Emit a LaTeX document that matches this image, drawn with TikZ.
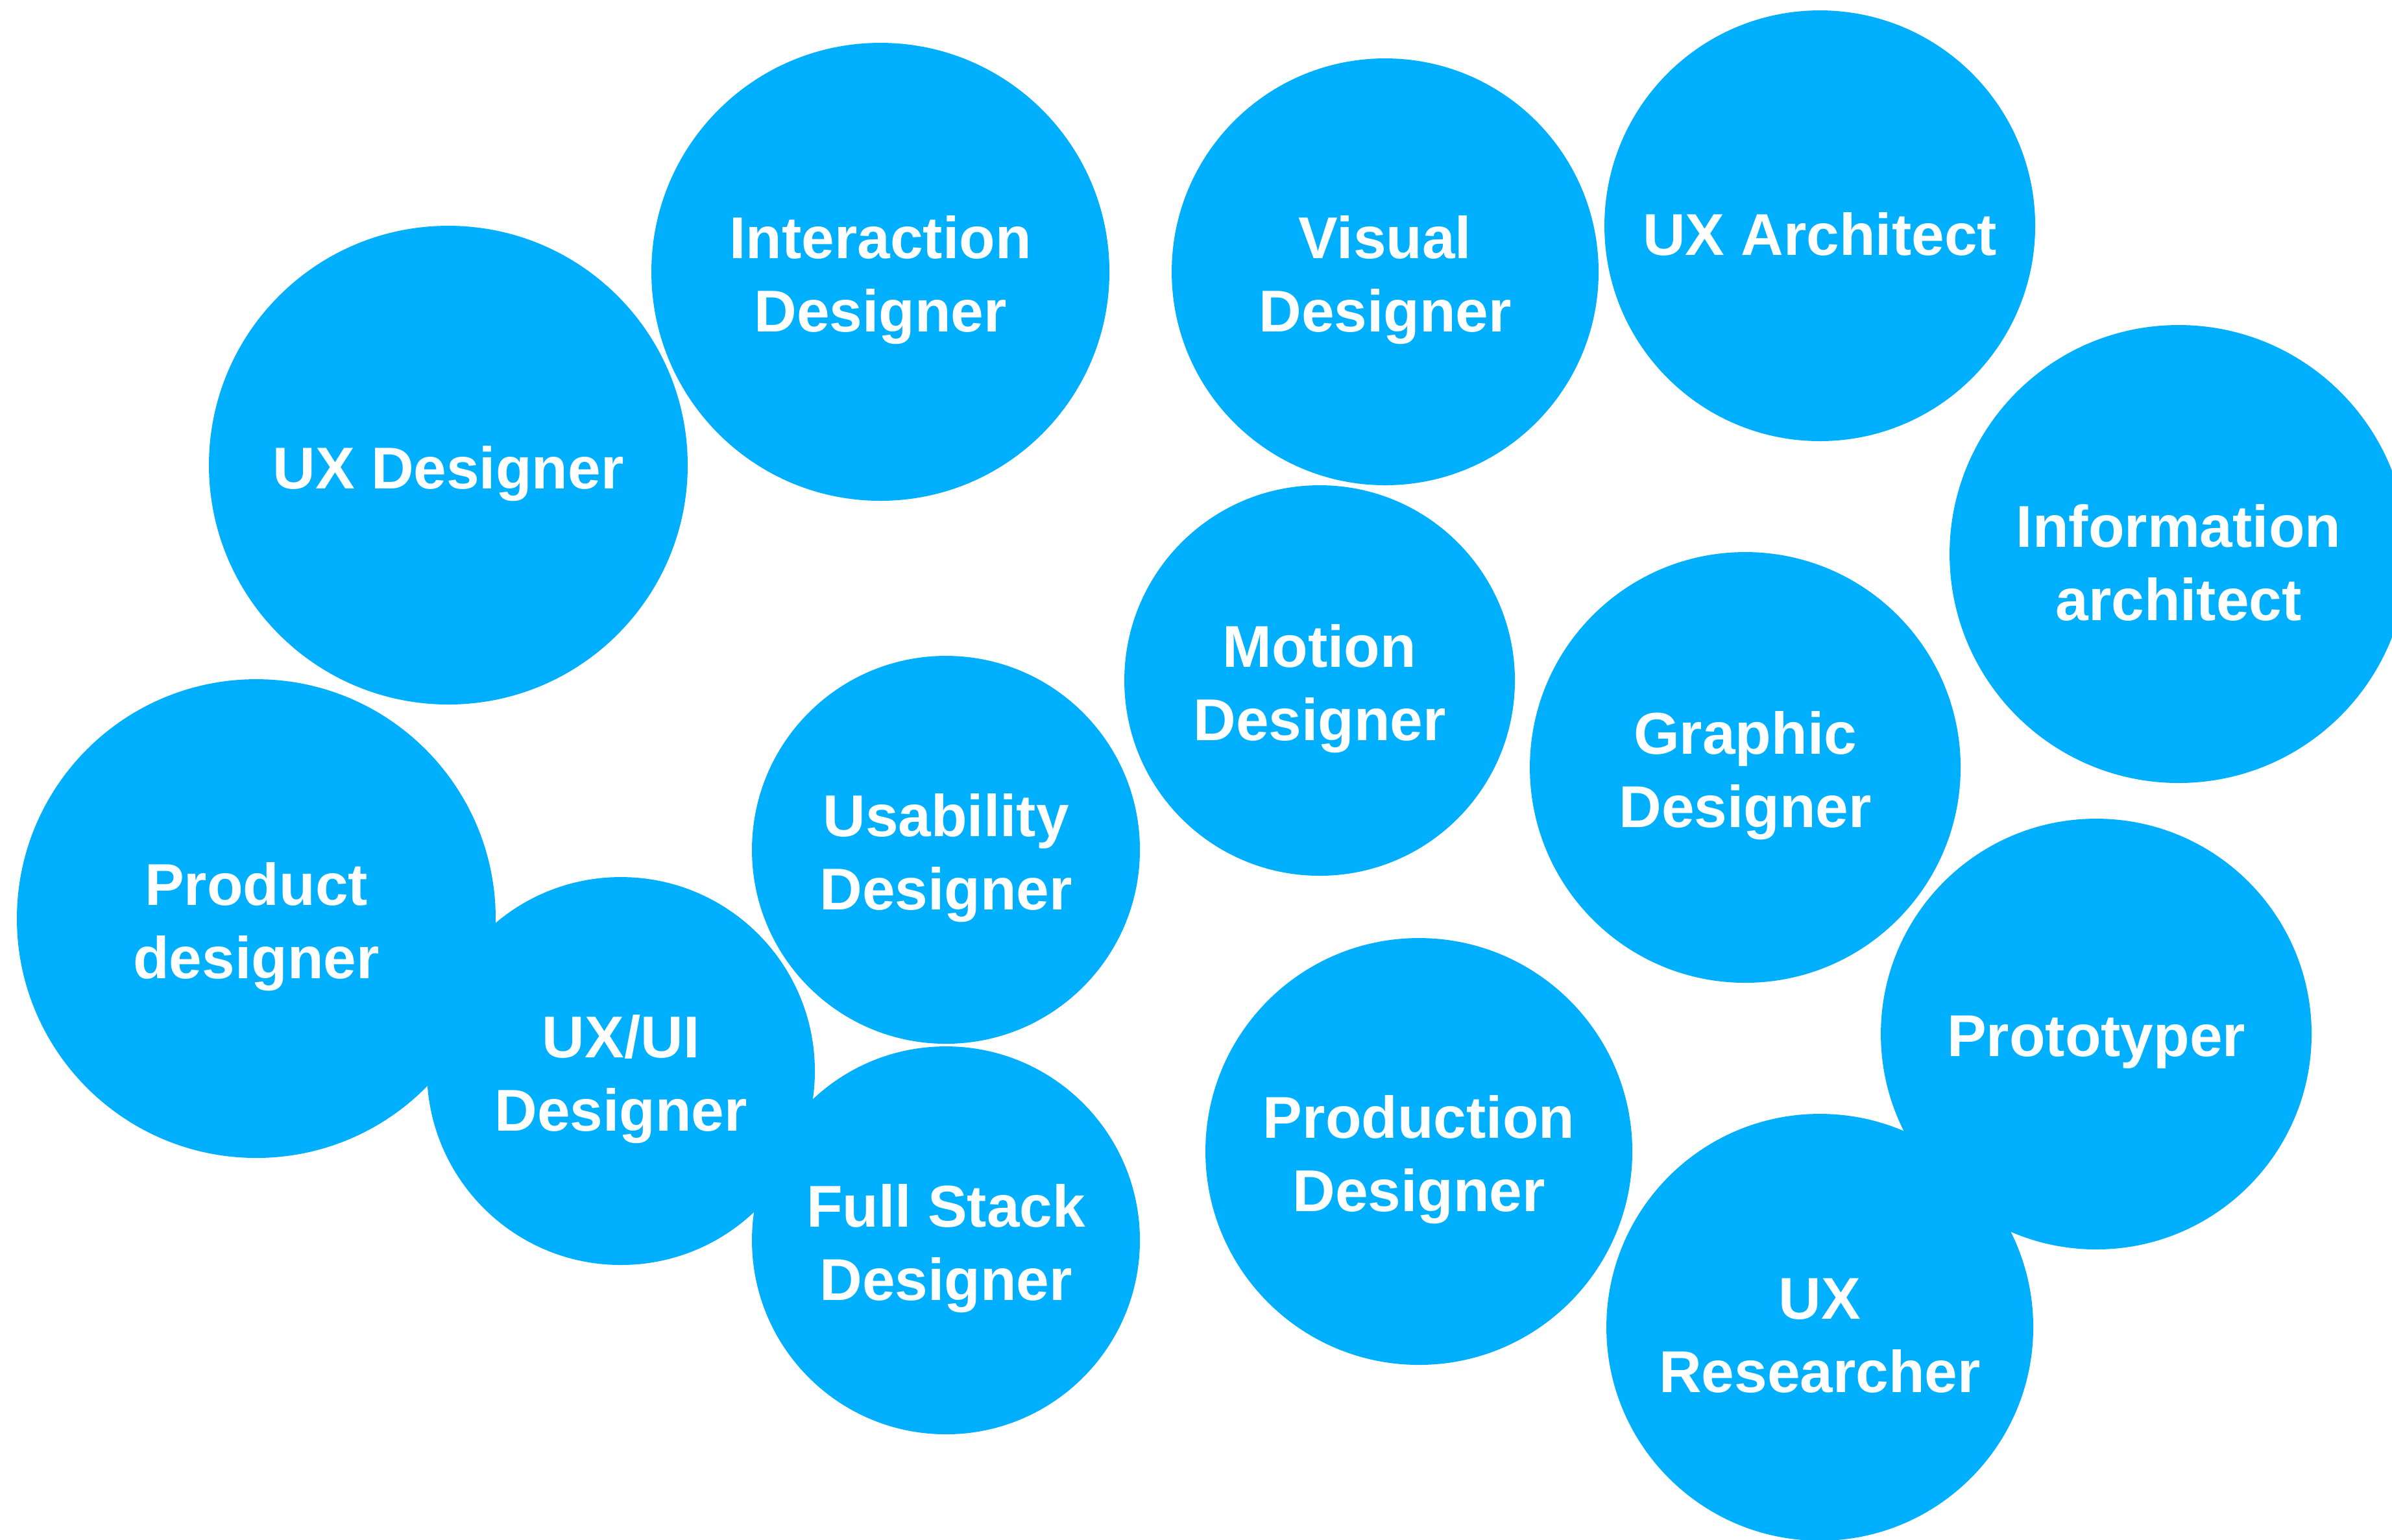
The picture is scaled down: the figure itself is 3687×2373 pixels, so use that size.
\documentclass[tikz,border=0pt]{standalone}
\usepackage{fontspec}
\setmainfont{Liberation Sans}
\definecolor{bubblue}{RGB}{0,176,255}
\begin{document}
\begin{tikzpicture}[x=0.1pt,y=-0.1pt,
  bub/.style={circle, fill=bubblue, draw=none, inner sep=0pt},
  lab/.style={text=white, align=center, inner sep=0pt, yshift=-1.3pt,
    font=\fontsize{9.1}{11.3}\selectfont\bfseries}]
\useasboundingbox (0,0) rectangle (3687,2373);
\clip (0,0) rectangle (3687,2373);
\fill[white] (0,0) rectangle (3687,2373);
\node[bub, minimum size=73.8pt, label={[lab]center:{UX Designer}}] (uxd)  at (691,717)   {};
\node[bub, minimum size=70.6pt, label={[lab]center:{Interaction\\Designer}}] (ixd)  at (1357,419)  {};
\node[bub, minimum size=65.8pt, label={[lab]center:{Visual\\Designer}}] (vis)  at (2135,419)  {};
\node[bub, minimum size=66.4pt, label={[lab]center:{UX Architect}}] (uxa)  at (2805,348)  {};
\node[bub, minimum size=70.6pt, label={[lab]center:{Information\\architect}}] (ia)   at (3358,854)  {};
\node[bub, minimum size=60.2pt, label={[lab]center:{Motion\\Designer}}] (mot)  at (2034,1049) {};
\node[bub, minimum size=66.4pt, label={[lab]center:{Graphic\\Designer}}] (gra)  at (2690,1183) {};
\node[bub, minimum size=73.8pt, label={[lab]center:{Product\\designer}}] (prod) at (395,1416)  {};
\node[bub, minimum size=59.8pt, label={[lab]center:{Usability\\Designer}}] (usa)  at (1458,1310) {};
\node[bub, minimum size=59.8pt, label={[lab]center:{UX/UI\\Designer}}] (uxui) at (957,1651)  {};
\node[bub, minimum size=59.8pt, label={[lab]center:{Full Stack\\Designer}}] (fsd)  at (1458,1912) {};
\node[bub, minimum size=65.8pt, label={[lab]center:{Production\\Designer}}] (pdn)  at (2187,1775) {};
\node[bub, minimum size=66.4pt, label={[lab]center:{Prototyper}}] (pro)  at (3231,1594) {};
\node[bub, minimum size=65.8pt, label={[lab]center:{UX\\Researcher}}] (uxr)  at (2805,2046) {};
\end{tikzpicture}
\end{document}
